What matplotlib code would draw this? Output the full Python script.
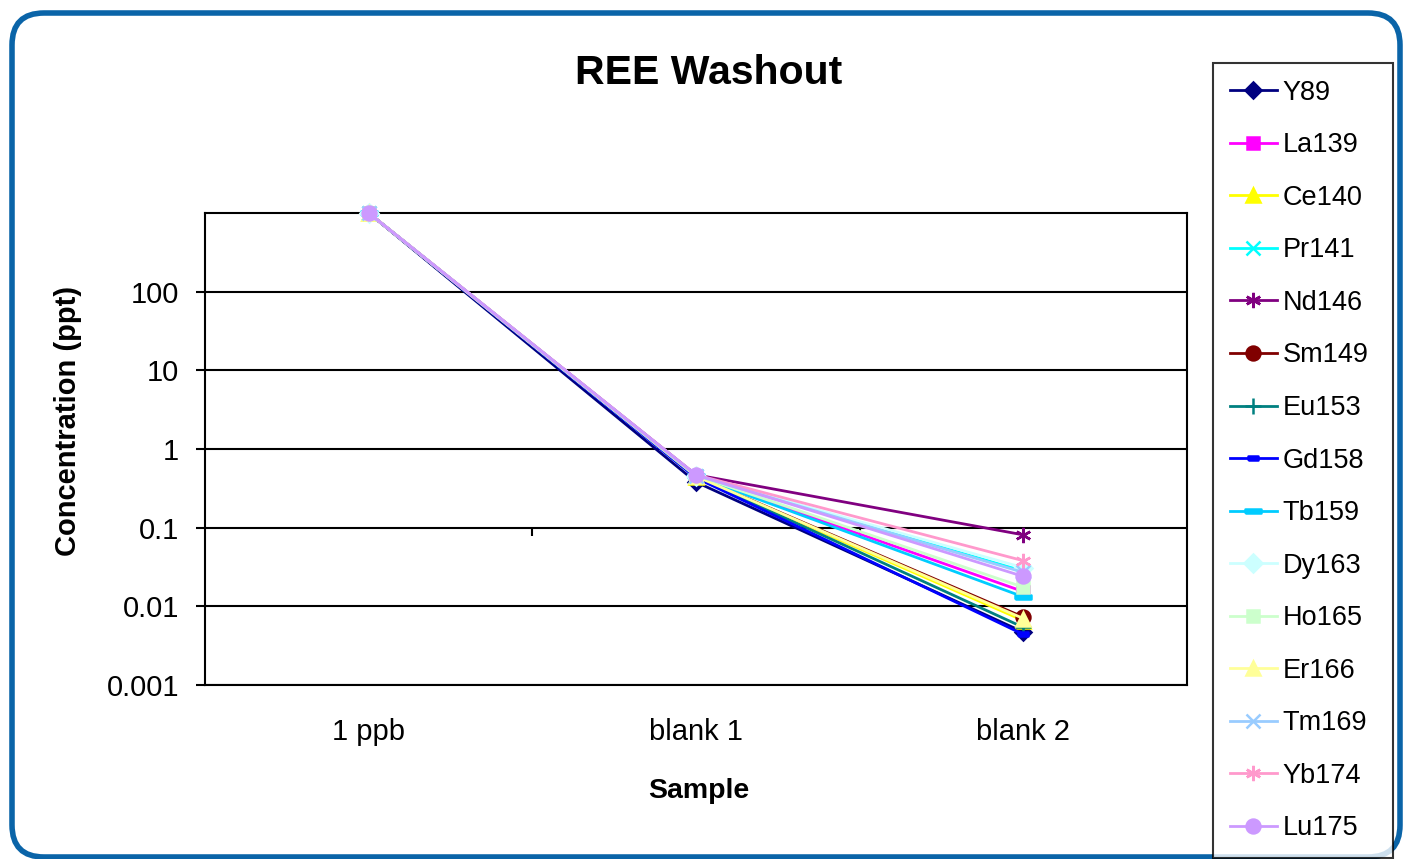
import numpy as np
import matplotlib
matplotlib.use("Agg")
import matplotlib.pyplot as plt
from matplotlib.patches import FancyBboxPatch
from matplotlib.ticker import FixedLocator, FixedFormatter

plt.rcParams['font.family'] = ['Liberation Sans', 'DejaVu Sans']

samples = ["1 ppb", "blank 1", "blank 2"]
isotopes = ["Y89", "La139", "Ce140", "Pr141", "Nd146", "Sm149", "Eu153", "Gd158",
            "Tb159", "Dy163", "Ho165", "Er166", "Tm169", "Yb174", "Lu175"]

# concentration (ppt) for each isotope at 1 ppb, blank 1, blank 2
y89 = [1000, 0.38, 0.0047]
la139 = [1000, 0.45, 0.0154]
ce140 = [1000, 0.44, 0.0066]
pr141 = [1000, 0.46, 0.028]
nd146 = [1000, 0.47, 0.081]
sm149 = [1000, 0.45, 0.0073]
eu153 = [1000, 0.44, 0.0054]
gd158 = [1000, 0.43, 0.0044]
tb159 = [1000, 0.45, 0.0132]
dy163 = [1000, 0.46, 0.031]
ho165 = [1000, 0.46, 0.0175]
er166 = [1000, 0.45, 0.0070]
tm169 = [1000, 0.46, 0.027]
yb174 = [1000, 0.47, 0.038]
lu175 = [1000, 0.47, 0.024]

series = [y89, la139, ce140, pr141, nd146, sm149, eu153, gd158,
          tb159, dy163, ho165, er166, tm169, yb174, lu175]

colors = ["#000080", "#FF00FF", "#FFFF00", "#00FFFF", "#800080", "#800000", "#008080",
          "#0000FF", "#00CCFF", "#CCFFFF", "#CCFFCC", "#FFFF99", "#99CCFF", "#FF99CC", "#CC99FF"]

short_dash = [(-1, -0.45), (1, -0.45), (1, 0.45), (-1, 0.45), (-1, -0.45)]
long_dash = [(-1, -0.3), (1, -0.3), (1, 0.3), (-1, 0.3), (-1, -0.3)]
markers = ["D", "s", "^", "x", (6, 2, 0), "o", "+", short_dash,
           long_dash, "D", "s", "^", "x", (6, 2, 0), "o"]
msizes = [8, 9, 10, 10, 11, 10, 11, 7, 11, 9, 9, 10, 10, 11, 10]

fig = plt.figure(figsize=(14.03, 8.59), dpi=100)

# rounded chart-area border
border = FancyBboxPatch((12, 2), 1388, 844, boxstyle="round,pad=0,rounding_size=32",
                        transform=None, facecolor="white", edgecolor="#0A64A8",
                        linewidth=4, zorder=-10)
fig.patches.append(border)

ax = fig.add_axes([205 / 1403, 1 - 685 / 859, 982 / 1403, 472 / 859])
x = np.arange(len(samples))
handles = []
for name, vals, c, m, ms in zip(isotopes, series, colors, markers, msizes):
    h, = ax.plot(x, vals, color=c, marker=m, markersize=ms, markerfacecolor=c,
                 markeredgecolor=c, markeredgewidth=1.8, linewidth=2.0, label=name,
                 clip_on=False, zorder=3)
    handles.append(h)

ax.set_yscale("log")
ax.set_ylim(0.001, 1000)
ax.set_xlim(-0.5, 2.5)
ax.yaxis.set_major_locator(FixedLocator([0.001, 0.01, 0.1, 1, 10, 100]))
ax.yaxis.set_major_formatter(FixedFormatter(["0.001", "0.01", "0.1", "1", "10", "100"]))
ax.yaxis.set_minor_locator(FixedLocator([]))
ax.set_xticks(x)
ax.set_xticklabels(samples)
ax.tick_params(axis="x", length=0, pad=24, labelsize=21)
ax.tick_params(axis="y", direction="out", length=6.5, width=1.5, pad=12, labelsize=21)
ax.grid(axis="y", color="black", linewidth=1.5, zorder=1)
ax.set_axisbelow(True)
for s in ax.spines.values():
    s.set_color("black")
    s.set_linewidth(1.5)

# category axis crosses at 0.1
sec = ax.secondary_xaxis(1 / 3)
sec.set_xticks([0.5, 1.5])
sec.set_xticklabels(["", ""])
sec.tick_params(direction="out", length=6, width=1.5, color="black")
sec.spines["bottom"].set_visible(False)

fig.text(709 / 1403, 1 - 73 / 859, "REE Washout", ha="center", va="center",
         fontsize=29.5, fontweight="bold")
fig.text(699 / 1403, 1 - 791 / 859, "Sample", ha="center", va="center",
         fontsize=20.5, fontweight="bold")
fig.text(68 / 1403, 1 - 421 / 859, "Concentration (ppt)", ha="center", va="center",
         rotation=90, fontsize=21, fontweight="bold")

leg = fig.legend(handles=handles, loc="upper left",
                 bbox_to_anchor=(1213 / 1403, 1 - 853 / 859, 180 / 1403, 790 / 859),
                 mode="expand", fontsize=19.5, frameon=True, fancybox=False,
                 edgecolor="black", handlelength=1.75, handletextpad=0.2,
                 labelspacing=0.98, borderpad=0.62, borderaxespad=0)
leg.get_frame().set_linewidth(1.5)
leg.set_zorder(5)

fig.savefig("out.png", dpi=100)
